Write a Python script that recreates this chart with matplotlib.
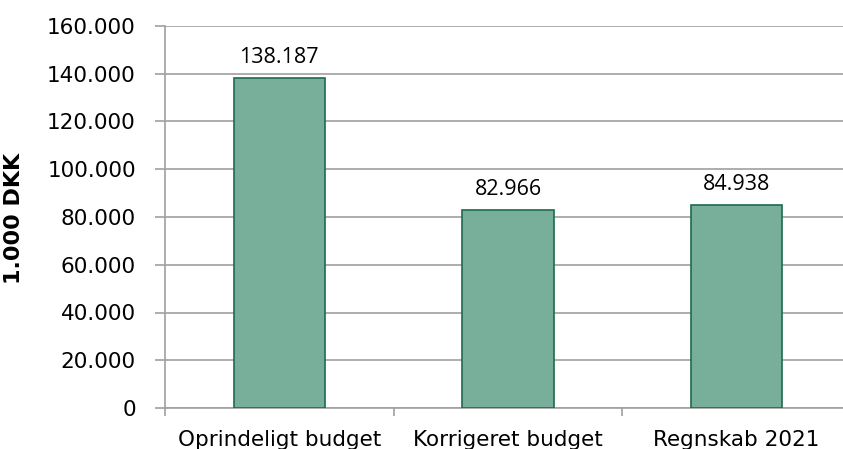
import matplotlib
matplotlib.use("Agg")
import matplotlib.pyplot as plt
import numpy as np

categories = ["Oprindeligt budget", "Korrigeret budget", "Regnskab 2021"]
values = [138187, 82966, 84938]
value_labels = ["138.187", "82.966", "84.938"]
yticks = [0, 20000, 40000, 60000, 80000, 100000, 120000, 140000, 160000]
ytick_labels = ["0", "20.000", "40.000", "60.000", "80.000", "100.000", "120.000", "140.000", "160.000"]

fig = plt.figure(figsize=(8.43, 4.49), dpi=100)
ax = fig.add_axes([165/843, 1-408/449, 686/843, (408-26)/449])

x = np.arange(len(categories))
ax.bar(x, values, width=0.40, color="#78AF9A", edgecolor="#1E6B4F", linewidth=1.2, zorder=3)
for xi, v, lab in zip(x, values, value_labels):
    ax.annotate(lab, (xi, v), xytext=(0, 7), textcoords="offset points",
                ha="center", va="bottom", fontsize=15.5,
                family="Open Sans", color="#000000")

ax.set_xlim(-0.5, 2.5)
ax.set_ylim(0, 160000)
ax.set_yticks(yticks)
ax.set_yticklabels(ytick_labels, fontsize=15.5, family="DejaVu Sans")
ax.yaxis.grid(True, color="#A0A0A0", linewidth=1.2, zorder=0)
ax.set_axisbelow(True)

ax.set_xticks([-0.5, 0.5, 1.5])
ax.set_xticklabels([])
ax.set_xticks(x, minor=True)
ax.set_xticklabels(categories, minor=True, fontsize=15.5, family="DejaVu Sans")
ax.tick_params(axis="x", which="minor", length=0, pad=15.5)
ax.tick_params(axis="x", which="major", length=6, color="#A0A0A0", width=1.2)
ax.tick_params(axis="y", length=7, color="#A0A0A0", width=1.2, pad=14)

for s in ["top", "right"]:
    ax.spines[s].set_visible(False)
for s in ["left", "bottom"]:
    ax.spines[s].set_color("#A0A0A0")
    ax.spines[s].set_linewidth(1.2)

ax.set_ylabel("1.000 DKK", fontsize=16, fontweight="bold", family="DejaVu Sans")
ax.yaxis.set_label_coords(-141/686, (408-218)/382)

fig.savefig("out.png", dpi=100)
